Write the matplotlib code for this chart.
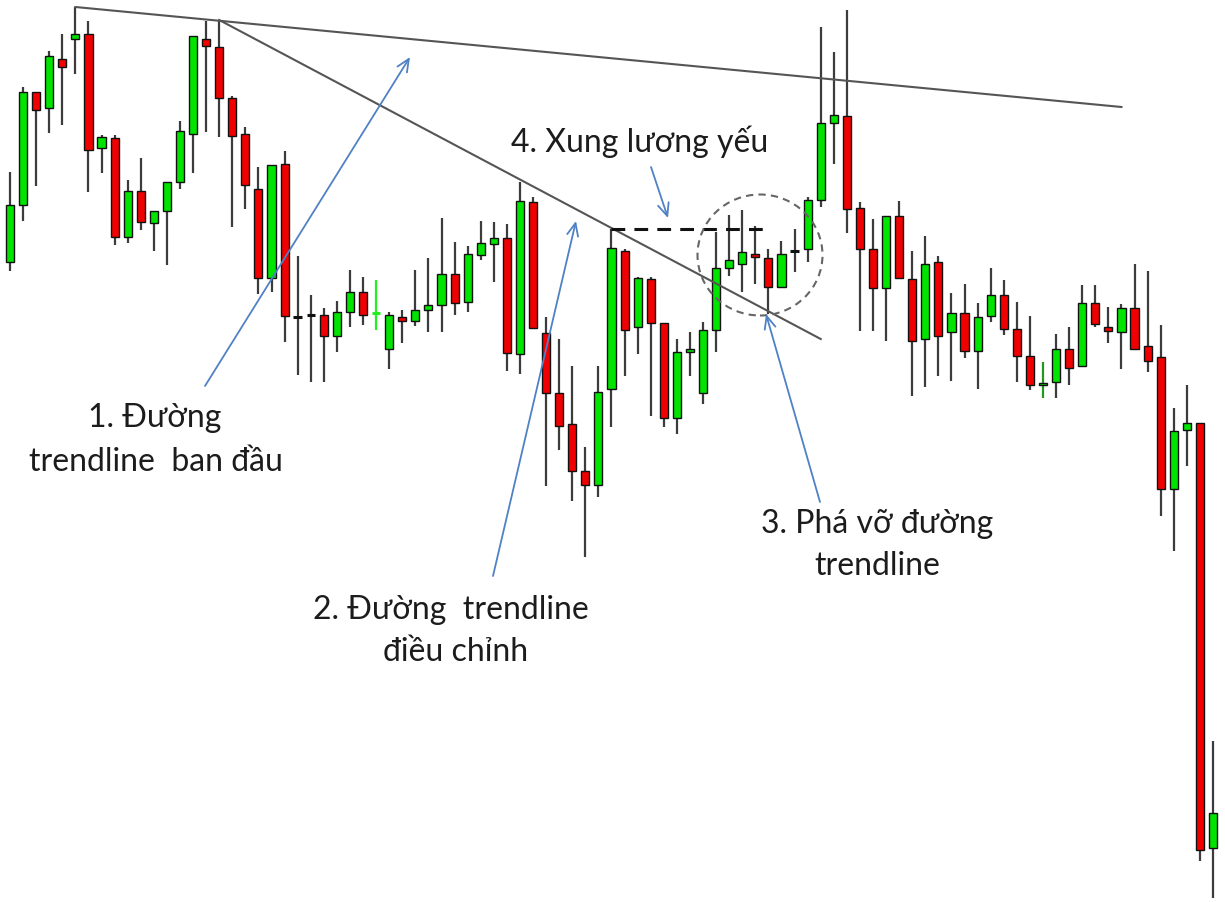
import matplotlib
matplotlib.use("Agg")
import matplotlib.pyplot as plt
from matplotlib.patches import Ellipse

plt.rcParams["font.family"] = ["Lato", "DejaVu Sans"]

# OHLC (price units = pixels from the bottom edge)
opens = [640, 697, 810, 794, 843, 863, 868, 754, 764, 665, 711, 679, 691, 720, 768, 863,
         855, 804, 768, 713, 624, 738, 585, 587, 587, 566, 590, 610, 589, 553, 585, 581,
         592, 597, 628, 600, 647, 658, 664, 548, 700, 569, 509, 478, 431, 417, 513, 651,
         575, 623, 579, 484, 550, 509, 572, 634, 638, 648, 644, 615, 651, 653, 702, 779,
         786, 694, 653, 614, 686, 623, 563, 640, 570, 589, 551, 586, 607, 573, 546, 517,
         520, 553, 536, 599, 575, 570, 594, 556, 545, 413, 472, 479, 54]
highs = [730, 815, 810, 851, 868, 895, 881, 767, 767, 722, 744, 691, 720, 781, 866, 881,
         882, 806, 775, 735, 737, 751, 646, 607, 594, 601, 632, 625, 622, 590, 592, 632,
         644, 684, 660, 656, 681, 680, 678, 720, 705, 585, 563, 536, 455, 536, 673, 653,
         625, 625, 579, 563, 570, 580, 670, 687, 692, 676, 653, 661, 673, 705, 875, 850,
         892, 700, 683, 686, 701, 651, 666, 646, 609, 618, 599, 634, 622, 600, 586, 540,
         568, 575, 617, 617, 595, 598, 638, 631, 577, 494, 517, 479, 161]
lows = [631, 681, 716, 769, 777, 828, 710, 729, 657, 659, 672, 651, 637, 713, 729, 770,
        765, 675, 693, 608, 610, 560, 527, 520, 520, 550, 575, 577, 572, 533, 559, 576,
        570, 570, 587, 590, 642, 620, 531, 528, 574, 416, 452, 401, 345, 405, 475, 526,
        548, 486, 475, 468, 526, 498, 550, 626, 610, 618, 588, 614, 630, 640, 695, 738,
        669, 571, 571, 561, 624, 506, 515, 526, 521, 544, 513, 580, 567, 520, 512, 504,
        504, 517, 536, 575, 559, 533, 553, 530, 386, 351, 436, 41, 4]
closes = [697, 810, 792, 846, 835, 868, 752, 765, 665, 711, 680, 691, 720, 771, 866, 856,
          804, 766, 717, 624, 737, 586, 585, 587, 566, 590, 610, 587, 589, 587, 581, 592,
          597, 628, 599, 648, 659, 664, 549, 701, 574, 509, 476, 431, 417, 510, 654, 572,
          624, 579, 484, 550, 553, 572, 634, 642, 650, 645, 615, 648, 651, 702, 779, 787,
          693, 653, 614, 686, 624, 561, 638, 566, 589, 551, 585, 607, 573, 546, 517, 519,
          553, 534, 599, 578, 571, 594, 553, 541, 413, 471, 479, 52, 89]
# candles whose doji cross is drawn green instead of black
green_doji = {28: "#22ee22", 79: "#1f9a1f"}

# annotation geometry (image pixels of the reference)
top_line = ([5, 85], [895, 795])
steep_line = ([16, 62], [882, 563])
resistance = ([46, 58.1], [673, 673])

BULL, BEAR, WICK = "#00e400", "#f00000", "#3c3c3c"
ARROW = "#4f81c4"
X0, DX = 10, 13.076


def at(xp, yp):
    return ((xp - X0) / DX, 903 - yp)


fig = plt.figure(figsize=(12.25, 9.03), dpi=100)
ax = fig.add_axes([0, 0, 1, 1])
ax.set_xlim(-X0 / DX, (1225 - X0) / DX)
ax.set_ylim(0, 903)
ax.axis("off")

for i, (o, h, l, c) in enumerate(zip(opens, highs, lows, closes)):
    wc = green_doji.get(i, WICK)
    ax.vlines(i, l, h, color=wc, lw=1.6, zorder=2)
    if o == c:
        ax.hlines(o, i - 0.32, i + 0.32, color=green_doji.get(i, "#111111"), lw=2.2, zorder=3)
        continue
    ax.bar(i, abs(c - o), bottom=min(o, c), width=0.62,
           color=BULL if c > o else BEAR, edgecolor="#111111", lw=1.0, zorder=3)

ax.plot(*top_line, color="#555555", lw=1.5, zorder=4)
ax.plot(*steep_line, color="#555555", lw=1.5, zorder=4)
ax.plot(*resistance, color="#111111", lw=2.2, ls=(0, (4.5, 3)), zorder=4)

ax.add_patch(Ellipse(at(760, 256), 125 / DX, 121, fill=False, ec="#666666",
                     lw=1.5, ls=(0, (3.5, 2.5)), zorder=5))

arrows = [((205, 387), (410, 58)), ((493, 577), (576, 222)),
          ((820, 503), (766, 315)), ((651, 168), (668, 219))]
for start, end in arrows:
    ax.annotate("", xy=at(*end), xytext=at(*start),
                arrowprops=dict(arrowstyle="->,head_length=0.9,head_width=0.4",
                                color=ARROW, lw=1.3, shrinkA=0, shrinkB=0), zorder=6)

labels = [("1. Đường", 155, 418), ("trendline  ban đầu", 156, 462),
          ("2. Đường  trendline", 451, 610), ("điều chỉnh", 456, 652),
          ("3. Phá vỡ đường", 877, 524), ("trendline", 877, 566),
          ("4. Xung lương yếu", 640, 142)]
for txt, xp, yp in labels:
    ax.text(*at(xp, yp), txt, ha="center", va="center", fontsize=23,
            color="#1c1c1c", zorder=7)

fig.savefig("out.png", dpi=100)
